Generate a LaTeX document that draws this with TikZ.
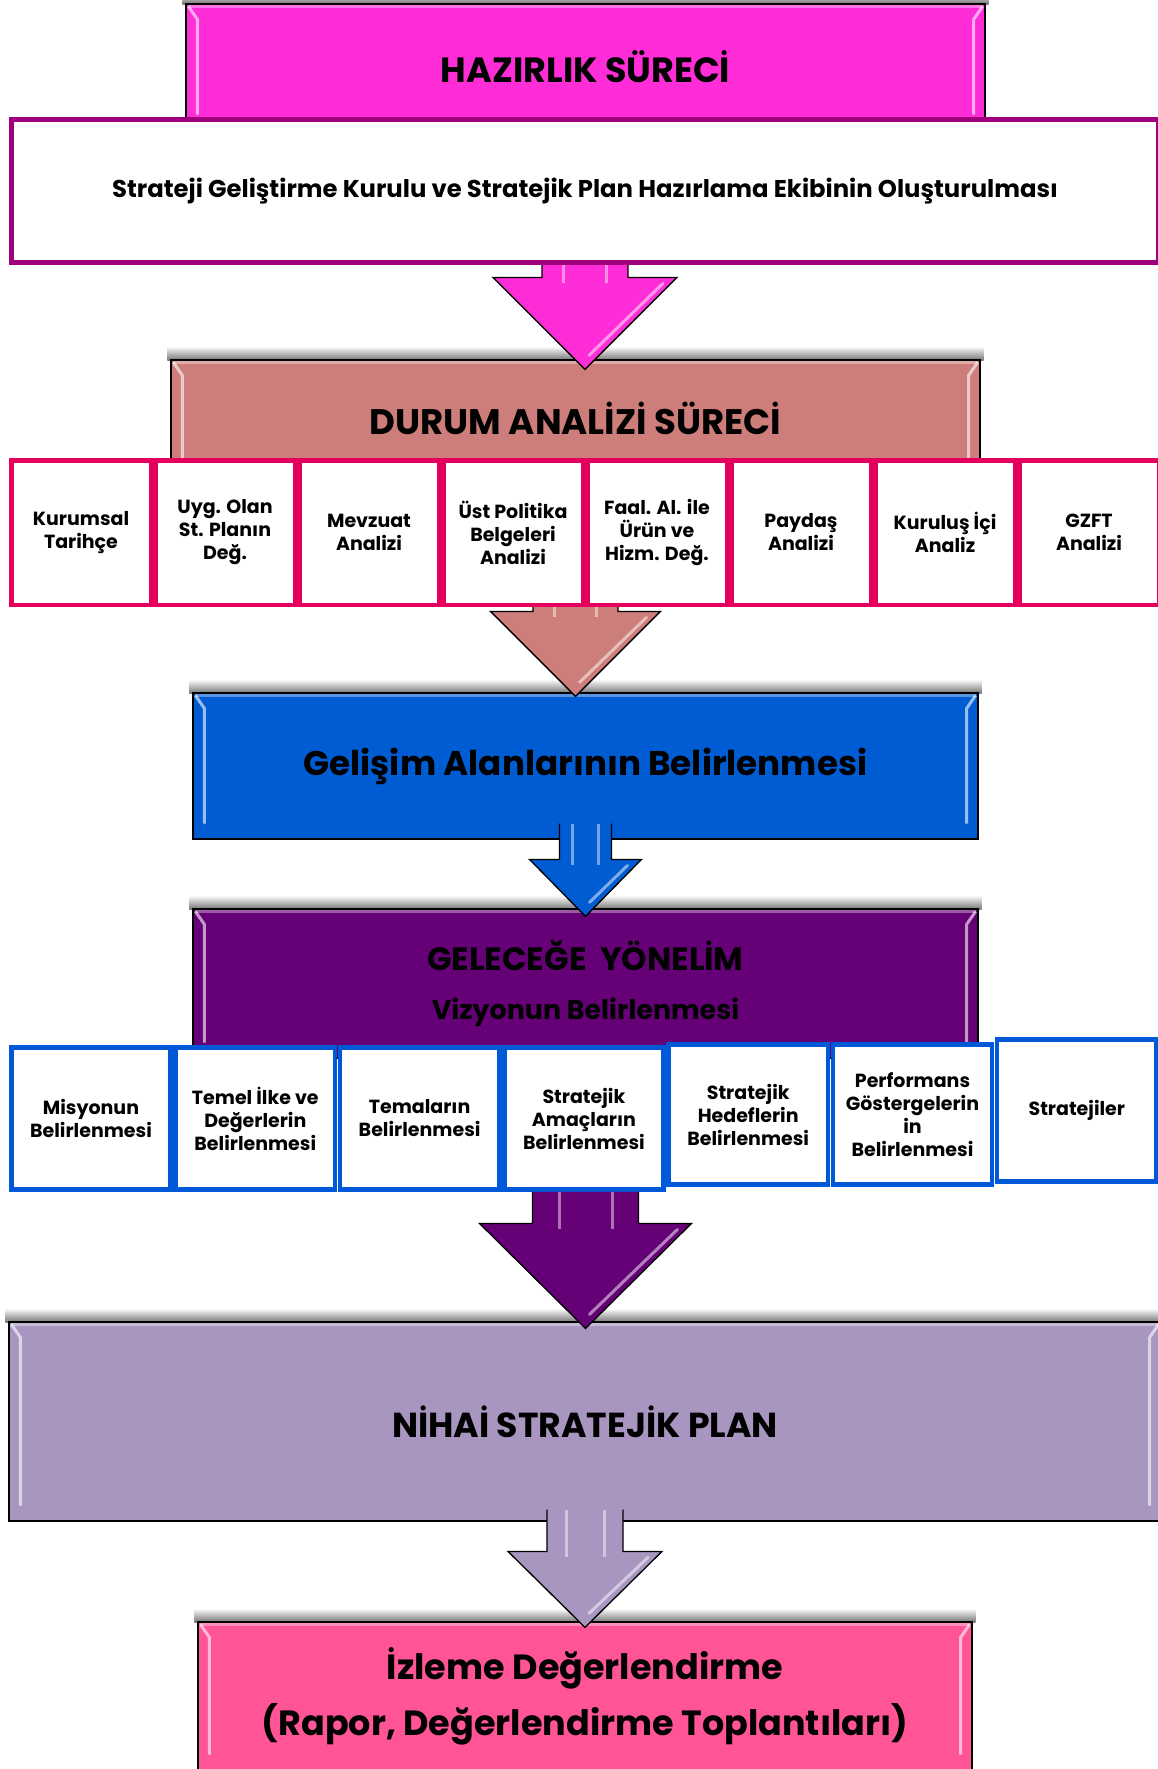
\documentclass[tikz,border=0pt]{standalone}
\usepackage{fontspec}
\setmainfont{Poppins}
\usetikzlibrary{calc,backgrounds}

\definecolor{prepMagenta}{RGB}{255,45,215}
\definecolor{prepBorder}{RGB}{160,0,125}
\definecolor{durumSalmon}{RGB}{205,126,122}
\definecolor{durumBorder}{RGB}{228,0,92}
\definecolor{gelisimBlue}{RGB}{0,92,210}
\definecolor{gelecekPurple}{RGB}{102,0,119}
\definecolor{rowBlue}{RGB}{0,90,215}
\definecolor{nihaiLilac}{RGB}{168,150,192}
\definecolor{izlemePink}{RGB}{255,85,150}

\newcommand{\fsize}[2]{\fontsize{#1}{#2}\selectfont}

\tikzset{
  stage/.style={draw=black, line width=1.2pt, fill=#1, inner sep=0pt, align=center},
  topic/.style={draw=#1, line width=4.5pt, fill=white, inner sep=0pt, align=center,
    font=\bfseries\fsize{19}{23}},
  topshadow/.style={top color=white, bottom color=black!55},
}

\newcommand{\bevel}[1]{%
  \draw[white, opacity=.35, line width=3pt] ($(#1.north west)+(3,3)$) -- ($(#1.north east)+(-3,3)$);
  \draw[white, opacity=.6, line width=3pt] ($(#1.north west)+(3,3)$) -- ($(#1.north west)+(12,16)$) -- ($(#1.south west)+(12,-16)$);
  \draw[white, opacity=.6, line width=3pt] ($(#1.north east)+(-3,3)$) -- ($(#1.north east)+(-12,16)$) -- ($(#1.south east)+(-12,-16)$);
}

\newcommand{\topshade}[1]{%
  \shade[topshadow] ($(#1.north west)+(-3,-13)$) rectangle ($(#1.north east)+(3,1)$);
}

% #1 shaft start, #2 tip, #3 shaft half width, #4 head half width, #5 head length, #6 colour
\newcommand{\blockarrow}[6]{%
  \fill[#6] let \p1=(#1), \p2=(#2) in
    (\x2-#3pt,\y1) -- (\x2-#3pt,\y2+#5pt) -- (\x2-#4pt,\y2+#5pt) -- (\x2,\y2)
    -- (\x2+#4pt,\y2+#5pt) -- (\x2+#3pt,\y2+#5pt) -- (\x2+#3pt,\y1) -- cycle;
  \draw[white, opacity=.45, line width=3pt] let \p1=(#1), \p2=(#2) in
    (\x2-0.5*#3pt,\y1) -- (\x2-0.5*#3pt,\y2+#5pt-6pt)
    (\x2+0.5*#3pt,\y1) -- (\x2+0.5*#3pt,\y2+#5pt-6pt);
  \draw[white, opacity=.5, line width=3pt, line cap=round] let \p1=(#1), \p2=(#2) in
    (\x2+#4pt-14pt,\y2+#5pt-6pt) -- (\x2+4pt,\y2+14pt);
  \draw[black, line width=1.3pt, line join=miter] let \p1=(#1), \p2=(#2) in
    (\x2-#3pt,\y1) -- (\x2-#3pt,\y2+#5pt) -- (\x2-#4pt,\y2+#5pt) -- (\x2,\y2)
    -- (\x2+#4pt,\y2+#5pt) -- (\x2+#3pt,\y2+#5pt) -- (\x2+#3pt,\y1);
}

\begin{document}
\begin{tikzpicture}[x=1pt, y=-1pt]
\useasboundingbox (0,0) rectangle (1157,1769);

\node[stage=prepMagenta, minimum width=799pt, minimum height=126pt, font=\bfseries\fsize{35}{40}]
  (hazirlik) at (585.5,67) {HAZIRLIK SÜRECİ};
\bevel{hazirlik}

\node[draw=prepBorder, line width=5pt, fill=white, minimum width=1147pt, minimum height=143pt,
  inner sep=0pt, font=\bfseries\fsize{24.3}{28}]
  (kurul) at (585,191) {Strateji Geliştirme Kurulu ve Stratejik Plan Hazırlama Ekibinin Oluşturulması};

\node[stage=durumSalmon, minimum width=809pt, minimum height=116pt, font=\bfseries\fsize{35.5}{40}]
  (durum) at (575.5,418) {DURUM ANALİZİ SÜRECİ};
\bevel{durum}

\foreach \txt [count=\i] in {{Kurumsal\\Tarihçe}, {Uyg. Olan\\St. Planın\\Değ.}, {Mevzuat\\Analizi},
    {Üst Politika\\Belgeleri\\Analizi}, {Faal. Al. ile\\Ürün ve\\Hizm. Değ.}, {Paydaş\\Analizi},
    {Kuruluş İçi\\Analiz}, {GZFT\\Analizi}}
  \node[topic=durumBorder, minimum width=139.5pt, minimum height=144.5pt]
    (da\i) at ({81+(\i-1)*144}, 532.5) {\txt};

\node[stage=gelisimBlue, minimum width=785pt, minimum height=146pt, font=\bfseries\fsize{34.2}{40}]
  (gelisim) at (585.5,766) {Gelişim Alanlarının Belirlenmesi};
\bevel{gelisim}

\node[stage=gelecekPurple, minimum width=785pt, minimum height=149pt, font=\bfseries\fsize{32.3}{49}]
  (gelecek) at (585.5,983.5) {GELECEĞE~~YÖNELİM\\{\fsize{26.9}{49}Vizyonun Belirlenmesi}};
\bevel{gelecek}

\foreach \txt/\yc/\hh [count=\i] in {{Misyonun\\Belirlenmesi}/1118.5/142,
    {Temel İlke ve\\Değerlerin\\Belirlenmesi}/1118.5/142, {Temaların\\Belirlenmesi}/1118.5/142,
    {Stratejik\\Amaçların\\Belirlenmesi}/1118.5/142, {Stratejik\\Hedeflerin\\Belirlenmesi}/1114.5/140,
    {Performans\\Göstergelerin\\in\\Belirlenmesi}/1114.5/140, {Stratejiler}/1110.5/142}
  \node[topic=rowBlue, minimum width=159.3pt, minimum height=\hh pt]
    (gy\i) at ({91+(\i-1)*164.3}, \yc) {\txt};

\node[stage=nihaiLilac, minimum width=1152pt, minimum height=199pt, font=\bfseries\fsize{34.7}{40}]
  (nihai) at (585,1421.5) {NİHAİ STRATEJİK PLAN};
\bevel{nihai}

\node[stage=izlemePink, minimum width=774pt, minimum height=148pt, font=\bfseries\fsize{35}{56}]
  (izleme) at (585,1696) {İzleme Değerlendirme\\(Rapor, Değerlendirme Toplantıları)};
\bevel{izleme}

\begin{scope}[on background layer]
  \topshade{hazirlik}
  \topshade{durum}
  \topshade{gelisim}
  \topshade{gelecek}
  \topshade{nihai}
  \topshade{izleme}
\end{scope}

\coordinate (tip1) at ($(kurul.south |- durum.north)+(0,10)$);
\coordinate (tip2) at ($(durum.south |- gelisim.north)+(0,4)$);
\coordinate (tip3) at ($(gelisim.south |- gelecek.north)+(0,8)$);
\coordinate (tip4) at ($(gelecek.south |- nihai.north)+(0,7)$);
\coordinate (tip5) at ($(nihai.south |- izleme.north)+(0,6)$);
\coordinate (src2) at (durum.south |- da1.south);
\coordinate (src3) at ($(gelisim.south)+(0,-16)$);
\coordinate (src4) at (gelecek.south |- gy1.south);
\coordinate (src5) at ($(nihai.south)+(0,-12)$);

\blockarrow{kurul.south}{tip1}{43}{92}{92}{prepMagenta}
\blockarrow{src2}{tip2}{42.5}{85}{85}{durumSalmon}
\blockarrow{src3}{tip3}{26}{56}{57}{gelisimBlue}
\blockarrow{src4}{tip4}{53}{106}{105}{gelecekPurple}
\blockarrow{src5}{tip5}{38}{77}{76}{nihaiLilac}

\end{tikzpicture}
\end{document}
